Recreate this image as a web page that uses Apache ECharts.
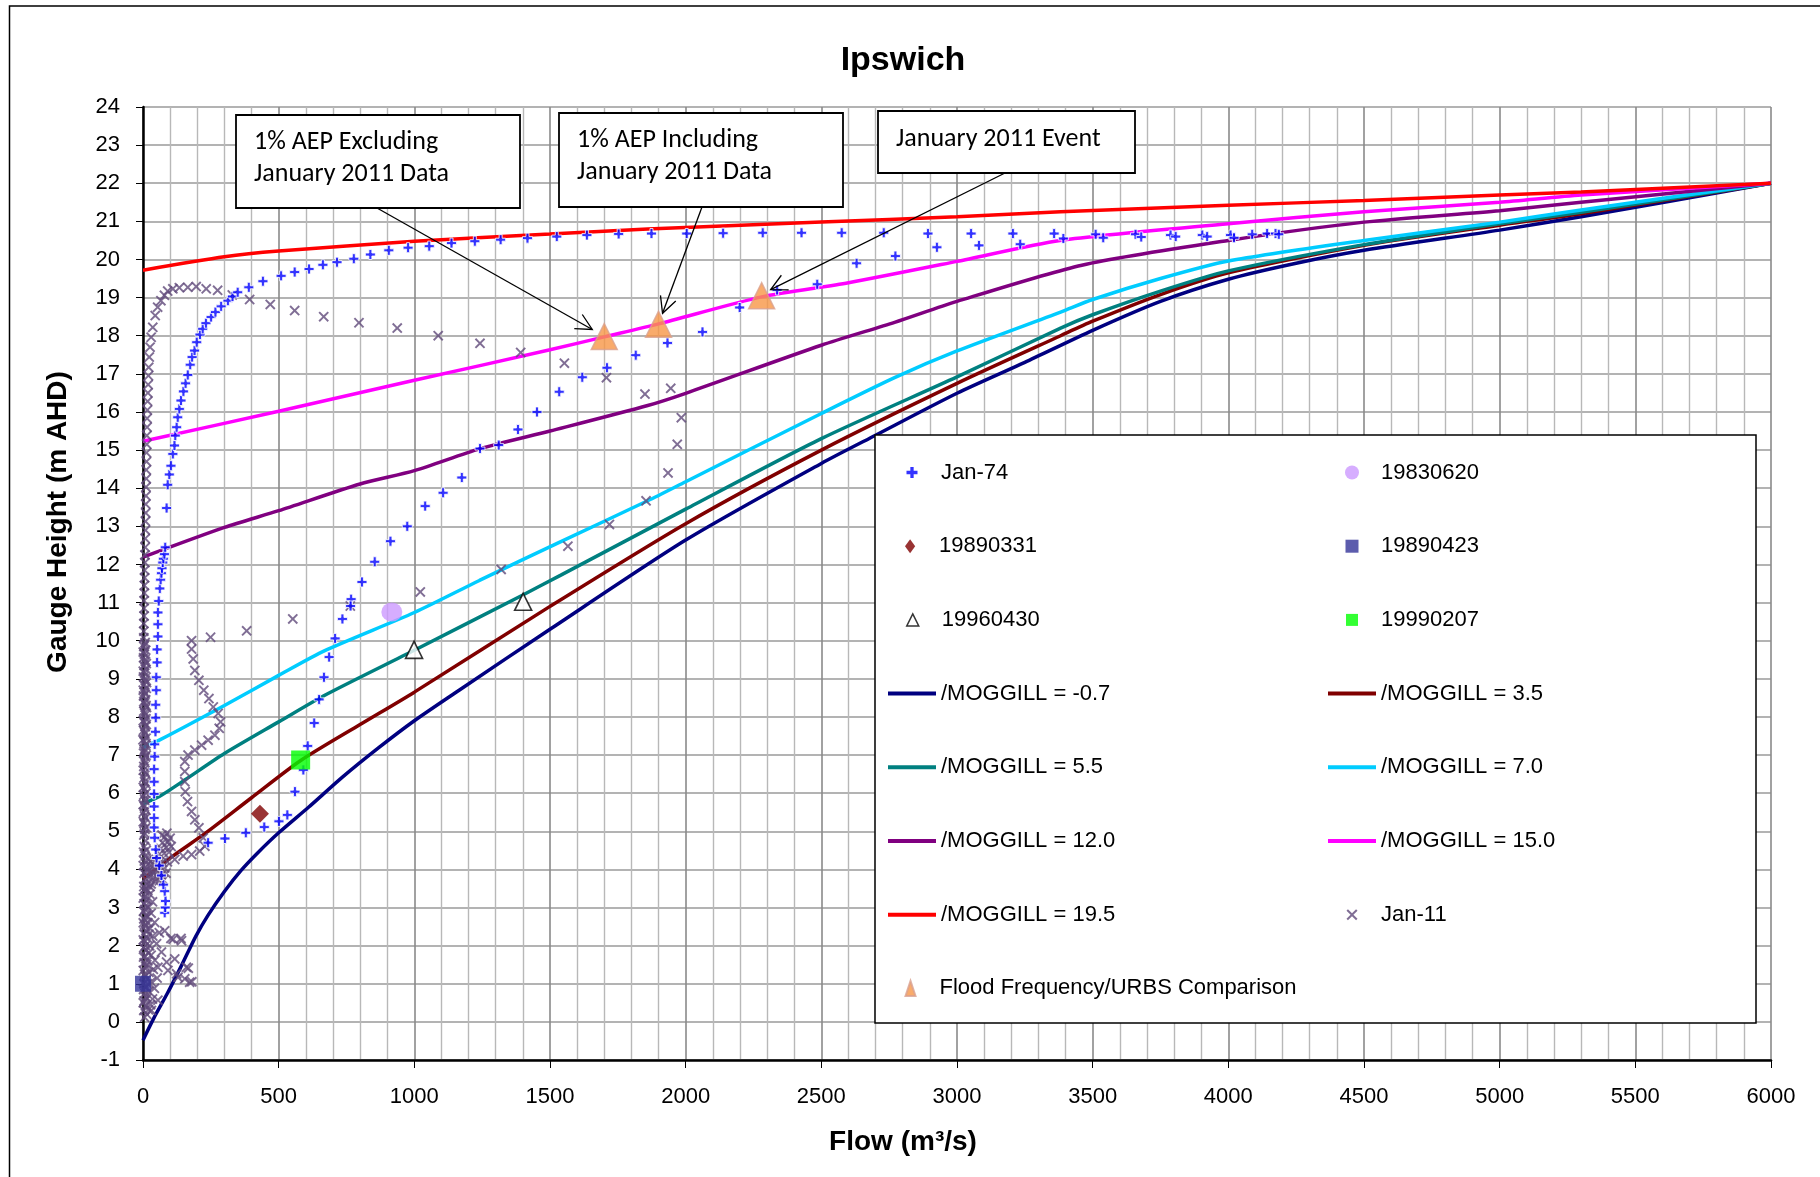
<!DOCTYPE html>
<html>
<head>
<meta charset="utf-8">
<title>Ipswich</title>
<script src="https://cdn.jsdelivr.net/npm/echarts@6/dist/echarts.min.js"></script>
<style>
  html, body { margin: 0; padding: 0; background: #fff; }
  #chart { width: 1820px; height: 1177px; }
</style>
</head>
<body>
<div id="chart"></div>
<script>
const FONT = '"Liberation Sans", Arial, sans-serif';
const NOTE_FONT = 'Carlito, Lato, "Open Sans", sans-serif';

// ---- data: [flow (m3/s), gauge height (m AHD)] ----
const moggillM07 = [[0,-0.48],[40,0.1],[90,0.75],[140,1.45],[195,2.25],[240,2.8],[300,3.42],[360,3.96],[425,4.45],[500,4.96],[610,5.63],[735,6.42],[870,7.2],[1000,7.9],[1165,8.7],[1500,10.3],[2000,12.64],[2500,14.65],[2700,15.39],[3000,16.49],[3250,17.3],[3500,18.14],[3750,18.9],[4000,19.48],[4250,19.9],[4500,20.24],[5000,20.77],[5300,21.12],[6000,22]];
const moggill35 = [[0,3.75],[110,4.35],[230,4.95],[400,5.88],[580,6.85],[800,7.8],[1000,8.65],[1500,10.9],[2000,13.07],[2500,15.0],[3000,16.75],[3382,18.0],[3500,18.38],[3750,19.08],[4000,19.65],[4500,20.37],[5000,20.9],[5300,21.2],[6000,22]];
const moggill55 = [[0,5.72],[60,5.91],[155,6.35],[300,7.04],[500,7.87],[670,8.57],[1000,9.75],[1400,11.2],[1540,11.72],[2000,13.45],[2500,15.3],[3000,16.92],[3382,18.2],[3500,18.55],[3750,19.17],[4000,19.7],[4500,20.39],[5000,20.94],[5300,21.24],[6000,22]];
const moggill70 = [[0,7.2],[60,7.39],[300,8.3],[500,9.09],[670,9.74],[1000,10.74],[1240,11.58],[1540,12.6],[1860,13.67],[2000,14.17],[2500,15.96],[2770,16.9],[3000,17.6],[3382,18.62],[3500,18.95],[3750,19.5],[4000,19.96],[4500,20.5],[5000,20.98],[5300,21.3],[6000,22]];
const moggill120 = [[0,12.19],[300,12.97],[500,13.41],[800,14.11],[1000,14.46],[1240,15.03],[1500,15.5],[1860,16.17],[2000,16.49],[2500,17.75],[2770,18.35],[3000,18.9],[3460,19.85],[4000,20.5],[4500,20.98],[5000,21.28],[5300,21.5],[6000,22]];
const moggill150 = [[0,15.23],[500,16.02],[1000,16.83],[1500,17.63],[1700,17.97],[1900,18.31],[2280,19.02],[2600,19.39],[3000,19.95],[3380,20.5],[4000,20.94],[4500,21.25],[5000,21.5],[5300,21.69],[6000,22]];
const moggill195 = [[0,19.72],[300,20.07],[500,20.22],[1000,20.48],[1500,20.67],[1860,20.8],[2500,20.98],[3000,21.12],[3382,21.25],[4000,21.42],[4500,21.55],[5000,21.69],[5300,21.77],[6000,22]];

const jan74 = [
  [80,2.86],[82,3.0],[83,3.17],[80,3.43],[75,3.6],[68,3.84],[60,4.1],[50,4.3],[47,4.52],[43,4.83],[41,5.1],[41,5.35],[41,5.65],[41,5.98],[41,6.3],[41,6.63],[43,6.96],[43,7.28],[46,7.61],[47,7.98],[47,8.32],[49,8.7],[49,9.04],[52,9.43],[52,9.77],[55,10.11],[55,10.43],[55,10.74],[58,11.04],[62,11.37],[65,11.6],[68,11.77],[70,11.9],[73,12.05],[75,12.15],[79,12.27],[82,12.45],
  [87,13.48],[91,14.09],[97,14.36],[103,14.59],[110,14.9],[116,15.12],[119,15.38],[124,15.6],[128,15.86],[134,16.08],[140,16.3],[149,16.54],[157,16.75],[165,16.97],[174,17.24],[181,17.44],[190,17.61],[198,17.83],[210,18.03],[220,18.18],[232,18.33],[251,18.49],[267,18.62],[288,18.77],[313,18.92],[330,19.03],[349,19.14],[390,19.27],[442,19.43],[509,19.57],[559,19.67],[612,19.75],[663,19.86],[715,19.93],[777,20.02],[838,20.13],[906,20.24],[977,20.31],[1055,20.35],[1137,20.43],[1223,20.48],[1318,20.52],[1417,20.56],[1525,20.6],[1636,20.64],[1753,20.67],[1874,20.68],[2004,20.68],[2138,20.69],[2284,20.7],[2427,20.7],[2575,20.7],[2730,20.7],[2893,20.68],[3052,20.68],[3206,20.68],[3358,20.68],[3511,20.66],[3658,20.66],[3787,20.64],[3904,20.64],[4008,20.64],[4088,20.66],[4143,20.68],[4174,20.68],[4186,20.66],
  [4021,20.57],[3922,20.6],[3806,20.6],[3679,20.59],[3539,20.57],[3392,20.55],[3233,20.4],[3081,20.37],[2926,20.32],[2773,20.09],[2630,19.9],[2485,19.35],[2337,19.2],[2199,18.74],[2062,18.1],[1933,17.81],[1816,17.49],[1710,17.16],[1619,16.91],[1534,16.53],[1452,16.0],[1382,15.54],[1311,15.13],[1242,15.04],[1175,14.28],[1106,13.88],[1040,13.53],[974,13.0],[912,12.61],[854,12.07],[807,11.54],[767,11.09],[765,10.91],[735,10.57],[708,10.06],[686,9.57],[667,9.04],[649,8.46],[631,7.84],[607,7.24],[591,6.61],[560,6.04],[532,5.43],[501,5.26],[447,5.11],[379,4.96],[302,4.81],[240,4.7]
];

const jan11 = [
  [6,0.12],[14,0.2],[3,0.3],[20,0.32],[9,0.42],[28,0.45],[4,0.55],[15,0.62],[35,0.6],[7,0.75],[22,0.8],[11,0.9],[42,0.88],[3,1.0],[30,1.05],[14,1.12],[52,1.15],[6,1.25],[22,1.3],[38,1.38],[10,1.45],[55,1.43],[4,1.55],[18,1.6],[44,1.62],[8,1.72],[30,1.75],[68,1.83],[12,1.88],[3,1.95],[24,2.0],[50,2.05],[7,2.1],[16,2.2],[36,2.25],[4,2.3],[60,2.34],[11,2.4],[26,2.45],[80,2.39],[6,2.55],[18,2.6],[43,2.61],[3,2.7],[12,2.8],[30,2.85],[7,2.95],[20,3.0],[4,3.1],[14,3.2],[35,3.15],[8,3.3],[25,3.35],[4,3.45],
  [1,0.5],[10,0.65],[2,0.85],[17,1.0],[8,1.2],[1,1.35],[14,1.5],[2,1.7],[20,1.8],[9,2.0],[1,2.15],[22,2.3],[9,2.5],[1,2.6],[16,2.75],[2,2.9],[11,3.05],[1,3.25],[18,3.45],[10,3.5],[26,3.55],[38,3.9],[14,4.0],[1,4.1],[28,4.2],
  [87,1.57],[92,1.35],[103,2.19],[111,2.17],[117,1.65],[124,1.26],[129,1.17],[140,2.19],[142,2.13],[154,1.13],[160,1.43],[167,1.41],[172,1.04],[180,1.05],[55,0.57],[31,0.3],
  [3,3.55],[15,3.6],[30,3.62],[45,3.68],[60,3.7],[75,3.72],[8,3.75],[22,3.78],[38,3.8],[52,3.84],[68,3.86],[85,3.9],[4,3.9],[18,3.94],[33,3.96],[48,4.0],[62,4.02],[80,4.04],[10,4.06],[26,4.1],[42,4.12],[58,4.14],[72,4.18],[90,4.2],[5,4.22],[20,4.26],[36,4.28],
  [60,4.4],[78,4.42],[96,4.45],[66,4.55],[86,4.58],[104,4.6],[72,4.7],[92,4.72],[80,4.85],[100,4.82],[88,4.95],[70,4.9],
  [117,4.26],[148,4.35],[179,4.39],[209,4.48],[228,4.61],[222,4.83],[206,5.09],[191,5.3],[179,5.52],[164,5.78],[156,6.04],[154,6.3],[154,6.57],[154,6.83],[166,7.0],[191,7.13],[216,7.26],[240,7.39],[265,7.52],[281,7.7],[286,7.87],[277,8.09],[259,8.26],[243,8.48],[224,8.7],[206,8.96],[191,9.22],[185,9.52],[179,9.78],[179,10.0],
  [249,10.09],[382,10.26],[552,10.57],[764,10.91],[1022,11.28],[1320,11.87],
  [1566,12.48],[1719,13.05],[1854,13.67],[1935,14.4],[1969,15.15],[1984,15.85],[1945,16.62],[1850,16.47],[1708,16.9],[1553,17.28],[1392,17.56],[1242,17.8],[1088,18.0],[937,18.2],[796,18.34],[666,18.5],[559,18.66],[469,18.82],[393,18.95],[329,19.07],[275,19.19],[233,19.23],[196,19.29],[165,19.27],[134,19.26],[110,19.23],[91,19.17],[79,19.06],[66,18.92],[54,18.75],[45,18.53],[36,18.22],[30,17.96],[26,17.7],[23,17.44],[21,17.17],
  [20,16.95],[19,16.72],[18,16.5],[17,16.28],[16,16.05],[15,15.83],[15,15.6],[14,15.38],[14,15.15],[13,14.93],[13,14.7],[12,14.48],[12,14.25],[11,14.03],[11,13.8],[10,13.58],[10,13.35],[9,13.13],[9,12.9],[8,12.68],[8,12.45],[7,12.25],[7,12.05],[6,11.85],[6,11.65],[5,11.45],[5,11.25],[4,11.05],[4,10.85],[4,10.65],[3,10.45],[3,10.25],[3,10.08],
  [8,9.95],[3,9.85],[10,9.75],[5,9.65],[2,9.55],[9,9.45],[4,9.35],[11,9.25],[6,9.15],[2,9.05],[9,8.95],[4,8.85],[12,8.75],[6,8.65],[2,8.55],[10,8.45],[5,8.35],[13,8.25],[3,8.15],[8,8.05],[11,7.95],[4,7.85],[9,7.75],[2,7.65],[7,7.55],[12,7.45],[4,7.35],[10,7.25],[6,7.15],[2,7.05],[9,6.95],[5,6.85],[3,6.7],[8,6.55],[4,6.4],[10,6.25],[6,6.1],[3,5.95],[8,5.8],[5,5.65],[2,5.5],[9,5.35],[4,5.2],[7,5.05],[3,4.9],[10,4.75],[5,4.6],[2,4.45],[8,4.35],
  [6,9.9],[1,9.7],[7,9.5],[12,9.4],[1,9.2],[7,9.0],[13,8.9],[1,8.7],[8,8.6],[3,8.4],[11,8.3],[6,8.1],[1,7.9],[12,7.8],[6,7.6],[0,7.4],[11,7.3],[4,7.1],[12,7.0],[7,6.8],[1,6.6],[11,6.5],[6,6.3],[1,6.15],[11,6.0],[6,5.85],[1,5.7],[11,5.55],[6,5.4],[1,5.25],[11,5.1],[6,4.95],[12,4.5]
];

const ev19830620 = [[917,10.75]];
const ev19890331 = [[431,5.46]];
const ev19890423 = [[0,1.0]];
const ev19960430 = [[999,9.76],[1401,11.02]];
const ev19990207 = [[581,6.87]];
const floodFreq = [[1700,17.98],[1900,18.3],[2280,19.05]];

const legendOrder = [
  'Jan-74', '19830620', '19890331', '19890423', '19960430', '19990207',
  '/MOGGILL = -0.7', '/MOGGILL = 3.5', '/MOGGILL = 5.5', '/MOGGILL = 7.0',
  '/MOGGILL = 12.0', '/MOGGILL = 15.0', '/MOGGILL = 19.5', 'Jan-11',
  'Flood Frequency/URBS Comparison'
];

// ---- symbols ----
const PLUS = 'path://M3.5,0H6.5V3.5H10V6.5H6.5V10H3.5V6.5H0V3.5H3.5Z';
const CROSS = 'path://M0,1.3L1.3,0L5,3.7L8.7,0L10,1.3L6.3,5L10,8.7L8.7,10L5,6.3L1.3,10L0,8.7L3.7,5Z';
const LINE_ICON = 'path://M0,0H48V4H0Z';
const SQUARE = 'path://M0,0H10V10H0Z';
const DIAMOND = 'path://M4,0L8,5.5L4,11L0,5.5Z';
const TRIANGLE = 'path://M5,0L10,10H0Z';
const TALL_TRIANGLE = 'path://M4,0L8,12H0Z';

const curve = (name, data, color) => ({
  name, type: 'line', data, smooth: 0.25, symbol: 'none',
  lineStyle: { color, width: 3.5 }, itemStyle: { color }, z: 2, silent: true, animation: false
});

const points = (name, data, symbol, symbolSize, itemStyle) => ({
  name, type: 'scatter', data, symbol, symbolSize, itemStyle, z: 3, silent: true, animation: false
});

const series = [
  curve('/MOGGILL = -0.7', moggillM07, '#000080'),
  curve('/MOGGILL = 3.5', moggill35, '#800000'),
  curve('/MOGGILL = 5.5', moggill55, '#008080'),
  curve('/MOGGILL = 7.0', moggill70, '#00CCFF'),
  curve('/MOGGILL = 12.0', moggill120, '#800080'),
  curve('/MOGGILL = 15.0', moggill150, '#FF00FF'),
  curve('/MOGGILL = 19.5', moggill195, '#FF0000'),
  points('Jan-11', jan11, CROSS, 10.5, { color: '#604A7B' }),
  points('Jan-74', jan74, PLUS, 10, { color: '#0000FF', borderColor: '#fff', borderWidth: 1 }),
  points('19830620', ev19830620, 'circle', [21, 19], { color: '#CC99FF' }),
  points('19890331', ev19890331, 'diamond', 18, { color: '#800000' }),
  points('19890423', ev19890423, 'rect', 16, { color: '#333399' }),
  points('19960430', ev19960430, 'triangle', 17, { color: '#fff', borderColor: '#000', borderWidth: 1.6 }),
  points('19990207', ev19990207, 'rect', 19, { color: '#00FF00' }),
  points('Flood Frequency/URBS Comparison', floodFreq, 'triangle', 26, { color: '#F79646', borderColor: '#D9A08E', borderWidth: 1.5 })
];

const legendIcons = {
  'Jan-74': [PLUS, 11, { color: '#0000FF', borderWidth: 0 }],
  '19830620': ['circle', 14, { color: '#CC99FF' }],
  '19890331': [DIAMOND, 14, { color: '#800000' }],
  '19890423': [SQUARE, 13, { color: '#333399' }],
  '19960430': [TRIANGLE, 12, { color: '#fff', borderColor: '#000', borderWidth: 1.5 }],
  '19990207': [SQUARE, 12, { color: '#00FF00' }],
  'Jan-11': [CROSS, 11, { color: '#604A7B' }],
  'Flood Frequency/URBS Comparison': [TALL_TRIANGLE, 15, { color: '#F79646' }]
};
const lineColors = {
  '/MOGGILL = -0.7': '#000080', '/MOGGILL = 3.5': '#800000', '/MOGGILL = 5.5': '#008080',
  '/MOGGILL = 7.0': '#00CCFF', '/MOGGILL = 12.0': '#800080', '/MOGGILL = 15.0': '#FF00FF',
  '/MOGGILL = 19.5': '#FF0000'
};

// legend sits in a framed box, two columns, one legend per entry.
// a legend is placed by its drawn bounds, so small centred icons need the box shifted.
const legends = legendOrder.map((name, i) => {
  const row = Math.floor(i / 2), col = i % 2;
  const isLine = name in lineColors;
  const [icon, size, style] = isLine ? [LINE_ICON, 14, { color: lineColors[name] }] : legendIcons[name];
  const colX = col === 0 ? 888 : 1328;
  return {
    data: [{ name, icon, itemStyle: style }],
    orient: 'vertical',
    left: isLine ? colX : colX + (48 - size) / 2,
    top: 472.5 + row * 73.7 - 11,
    padding: 0,
    itemWidth: 48,
    itemHeight: size,
    selectedMode: false,
    z: 11,
    textStyle: { fontFamily: FONT, fontSize: 22, lineHeight: 22, color: '#000' }
  };
});

const chart = echarts.init(document.getElementById('chart'), null, { renderer: 'canvas' });

chart.setOption({
  backgroundColor: '#fff',
  animation: false,
  grid: { left: 143, right: 49, top: 107, bottom: 117 },
  xAxis: {
    type: 'value', min: 0, max: 6000, interval: 500,
    axisLine: { onZero: false, lineStyle: { color: '#000', width: 2.5 } },
    axisTick: { show: true, length: 8, lineStyle: { color: '#000', width: 1 } },
    axisLabel: { fontFamily: FONT, fontSize: 22, color: '#000', margin: 26, formatter: (v) => String(v) },
    splitLine: { show: true, lineStyle: { color: '#8a8a8a', width: 1.6 } },
    minorTick: { show: false, splitNumber: 5 },
    minorSplitLine: { show: true, lineStyle: { color: '#b8b8b8', width: 1.4 } }
  },
  yAxis: {
    type: 'value', min: -1, max: 24, interval: 1,
    axisLine: { onZero: false, lineStyle: { color: '#000', width: 2.5 } },
    axisTick: { show: true, length: 7, lineStyle: { color: '#000', width: 1 } },
    axisLabel: { fontFamily: FONT, fontSize: 22, color: '#000', margin: 23, formatter: (v) => String(v) },
    splitLine: { show: true, lineStyle: { color: '#9a9a9a', width: 1.6 } }
  },
  legend: legends,
  series
});

// frame, titles, legend box and callouts
const px = (p) => chart.convertToPixel({ gridIndex: 0 }, p);

const callouts = [
  { box: [236, 115, 284, 93], text: '1% AEP Excluding\nJanuary 2011 Data', textPos: [254, 158], from: [377, 208], target: floodFreq[0], offset: [-12, -7] },
  { box: [559, 113, 284, 94], text: '1% AEP Including\nJanuary 2011 Data', textPos: [577, 156], from: [702, 207], target: floodFreq[1], offset: [4, -11] },
  { box: [878, 111, 257, 62], text: 'January 2011 Event', textPos: [896, 139], from: [1005, 173], target: floodFreq[2], offset: [9, -6] }
];

const graphic = [
  { type: 'rect', shape: { x: 9.5, y: 6, width: 2000, height: 2000 }, style: { fill: null, stroke: '#000', lineWidth: 1.5 }, z: 0, silent: true },
  { type: 'text', x: 903, y: 61, style: { text: 'Ipswich', font: 'bold 34px ' + FONT, fill: '#000', align: 'center', verticalAlign: 'middle' }, z: 5 },
  { type: 'text', x: 58, y: 522, rotation: Math.PI / 2, style: { text: 'Gauge Height (m AHD)', font: 'bold 28px ' + FONT, fill: '#000', align: 'center', verticalAlign: 'middle' }, z: 5 },
  { type: 'text', x: 903, y: 1142, style: { text: 'Flow (m³/s)', font: 'bold 28px ' + FONT, fill: '#000', align: 'center', verticalAlign: 'middle' }, z: 5 },
  { type: 'rect', shape: { x: 875, y: 435, width: 881, height: 588 }, style: { fill: '#fff', stroke: '#000', lineWidth: 1.5 }, z: 10, silent: true }
];

callouts.forEach((c) => {
  const [bx, by, bw, bh] = c.box;
  graphic.push({ type: 'rect', shape: { x: bx, y: by, width: bw, height: bh }, style: { fill: '#fff', stroke: '#000', lineWidth: 1.8 }, z: 12, silent: true });
  graphic.push({ type: 'text', x: c.textPos[0], y: c.textPos[1], style: { text: c.text, font: '26px ' + NOTE_FONT, lineHeight: 32, fill: '#000', align: 'left', verticalAlign: 'middle' }, z: 13 });
  const t = px(c.target);
  const tip = [t[0] + c.offset[0], t[1] + c.offset[1]];
  const ang = Math.atan2(tip[1] - c.from[1], tip[0] - c.from[0]);
  const wing = (a) => [tip[0] - 18 * Math.cos(ang + a), tip[1] - 18 * Math.sin(ang + a)];
  graphic.push({ type: 'line', shape: { x1: c.from[0], y1: c.from[1], x2: tip[0], y2: tip[1] }, style: { stroke: '#000', lineWidth: 1.3 }, z: 12, silent: true });
  graphic.push({ type: 'polyline', shape: { points: [wing(0.47), tip, wing(-0.47)] }, style: { stroke: '#000', fill: null, lineWidth: 1.3 }, z: 12, silent: true });
});

chart.setOption({ graphic });
</script>
</body>
</html>
